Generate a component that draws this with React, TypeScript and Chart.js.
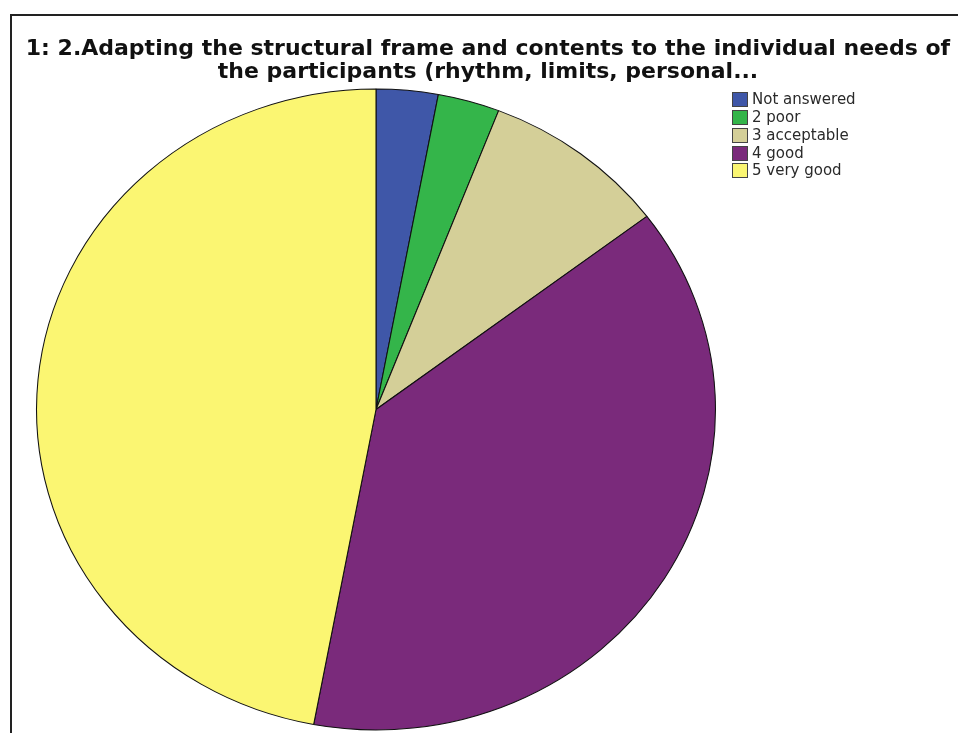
import React, { useEffect, useRef } from "react";
import { Chart, registerables } from "chart.js";

Chart.register(...registerables);

const titleLines = [
  "1: 2.Adapting the structural frame and contents to the individual needs of",
  "the participants (rhythm, limits, personal...",
];
const categories = ["Not answered", "2 poor", "3 acceptable", "4 good", "5 very good"];
const counts = [1, 1, 3, 13, 16];
const colors = ["#3f57a8", "#34b54a", "#d4cf98", "#7a2a7b", "#fbf672"];

const stretchX = 340 / 321;

const ellipsePlugin = {
  id: "ellipse",
  beforeDatasetsDraw(chart: any) {
    const meta = chart.getDatasetMeta(0);
    const arc = meta.data[0];
    if (!arc) return;
    const ctx = chart.ctx;
    ctx.save();
    ctx.translate(arc.x, arc.y);
    ctx.scale(stretchX, 1);
    ctx.translate(-arc.x, -arc.y);
  },
  afterDatasetsDraw(chart: any) {
    chart.ctx.restore();
  },
};

export default function App() {
  const ref = useRef<HTMLCanvasElement>(null);
  useEffect(() => {
    if (!ref.current) return;
    const chart = new Chart(ref.current, {
      type: "pie",
      data: {
        labels: categories,
        datasets: [
          {
            data: counts,
            backgroundColor: colors,
            borderColor: "#111",
            borderWidth: 1,
          },
        ],
      },
      options: {
        responsive: false,
        animation: false,
        layout: { padding: { left: 55, right: 261, top: 88, bottom: 2 } },
        plugins: {
          legend: { display: false },
          tooltip: { enabled: false },
          title: { display: false },
        },
      },
      plugins: [ellipsePlugin],
    });
    return () => chart.destroy();
  }, []);

  return (
    <div
      style={{
        position: "absolute",
        left: 0,
        top: 0,
        width: 958,
        height: 733,
        overflow: "hidden",
        background: "#fff",
      }}
    >
      <div
        style={{
          position: "absolute",
          left: 10,
          top: 14,
          width: 960,
          height: 740,
          borderLeft: "2px solid #222",
          borderTop: "2px solid #222",
        }}
      />
      <canvas ref={ref} width={958} height={733} style={{ position: "absolute", left: 0, top: 0 }} />
      <div
        style={{
          position: "absolute",
          left: 10,
          top: 36,
          width: 956,
          textAlign: "center",
          fontFamily: "'DejaVu Sans', sans-serif",
          fontWeight: "bold",
          fontSize: 22,
          lineHeight: "23px",
          color: "#111",
          whiteSpace: "nowrap",
        }}
      >
        {titleLines[0]}
        <br />
        {titleLines[1]}
      </div>
      <div
        style={{
          position: "absolute",
          left: 732,
          top: 91,
          fontFamily: "'DejaVu Sans', sans-serif",
          fontSize: 15,
          color: "#2a2a2a",
        }}
      >
        {categories.map((c, i) => (
          <div key={c} style={{ display: "flex", alignItems: "center", height: 17.75 }}>
            <div
              style={{
                width: 14,
                height: 13,
                background: colors[i],
                border: "1px solid #444",
                marginRight: 4,
                flexShrink: 0,
              }}
            />
            <span style={{ lineHeight: "17px", whiteSpace: "nowrap" }}>{c}</span>
          </div>
        ))}
      </div>
    </div>
  );
}
